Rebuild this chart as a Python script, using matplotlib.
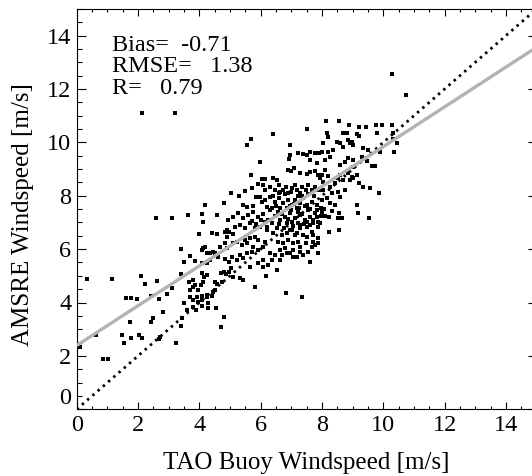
import matplotlib
matplotlib.use("Agg")
import matplotlib.pyplot as plt
from matplotlib.ticker import MultipleLocator

plt.rcParams['font.family'] = ['Liberation Serif', 'DejaVu Serif']

# ---------------- data ----------------
pts_lowleft = [(0.11,2.32),(0.35,4.88),(0.63,2.78),(0.87,1.87),(1.03,1.87),(1.16,4.88),(1.47,2.78),(1.54,2.49),
    (1.60,4.18),(1.74,3.26),(1.77,4.18),(1.77,2.66),(1.98,4.13),(2.02,2.77),(2.09,4.98),(2.13,2.66),(2.22,4.69),
    (2.41,3.26),(2.41,4.25),(2.50,3.43),(2.61,4.81),(2.69,4.13),(2.67,2.62),(2.72,2.70),(2.81,3.66),(2.93,4.30),
    (3.10,4.53),(3.24,2.49),(3.40,3.12),(3.42,3.41)]
pts_group_b = [(2.59,7.16),(3.12,7.16),(3.64,7.27),(4.08,7.31),(4.11,7.03),(4.18,7.65),(4.58,7.29),(4.80,7.72),
    (4.00,6.57),(4.40,6.61),(4.58,6.57),(4.85,6.65),(4.91,6.72),(3.40,6.02),(4.13,6.05),(4.10,5.97),(3.50,5.51),
    (3.69,5.74),(3.86,5.57),(4.26,5.87),(3.40,5.07),(3.67,4.78),(3.80,4.84),(3.86,4.66),(3.78,4.57),(3.69,4.47),
    (3.97,4.47),(4.04,4.66),(4.11,4.78),(4.15,4.97),(4.08,5.09),(4.26,5.03),(3.69,4.22),(3.78,4.09),(3.91,4.22),
    (3.97,4.03),(4.08,4.09),(3.51,3.97),(3.80,3.84),(4.08,3.87),(3.59,3.72),(3.89,3.72),(4.24,4.22),(4.29,3.97),
    (4.27,3.78)]
pts_group_c = [(4.54,3.78),(4.80,3.44),(4.69,3.09),(4.73,4.78),(4.58,4.69),(4.51,4.78),(4.26,4.28),(4.40,4.24),
    (4.08,4.24),(4.51,4.47),(4.43,4.40),(4.69,5.09),(4.80,5.15),(4.87,5.05),(4.98,5.15),(5.04,5.28),(5.81,4.59),
    (6.82,4.34),(7.34,4.22),(7.61,5.53),(6.63,5.59),(6.54,5.22),(6.17,4.99),(6.09,5.59),(5.92,5.47),(5.65,5.34),
    (5.43,4.84),(5.32,4.91),(5.11,4.97)]
pts_group_d = [(4.98,6.65),(5.11,6.57),(4.89,6.47),(4.18,6.09),(4.45,5.90),(4.35,5.84),(4.51,5.87),(4.62,5.72),
    (4.84,5.62),(4.98,5.53),(5.05,5.72),(5.22,5.59),(5.32,5.78),(4.08,5.47),(4.24,5.47),(4.35,5.59),(4.67,6.09),
    (4.84,6.22),(4.91,6.03),(5.11,6.22),(5.22,6.28),(5.38,6.15),(5.54,6.22),(5.49,6.34),(5.65,6.40),(5.81,6.47),
    (5.92,6.34),(5.76,6.09),(5.92,5.97),(6.08,6.09),(6.14,6.28),(5.54,5.84),(5.71,5.90),(5.43,5.66),(6.30,5.84),
    (6.47,5.78),(6.36,5.59),(6.25,5.40),(6.08,5.34),(6.63,5.97),(6.79,6.03),(6.95,5.84),(7.06,5.97),(7.17,5.72),
    (7.28,5.90),(7.39,5.78),(6.57,6.28),(6.74,6.22),(6.90,6.34),(7.06,6.22),(6.68,6.53),(6.85,6.59),(7.01,6.72),
    (7.12,6.53),(7.77,6.15),(7.88,5.84),(7.71,6.28),(7.88,6.22),(7.48,6.22),(7.23,6.28)]
pts_group_e = [(6.19,6.84),(6.36,6.97),(6.52,6.78),(6.41,6.59),(5.65,6.97),(5.81,6.78),(5.98,6.84),(5.49,6.78),
    (5.32,6.90),(5.16,6.84),(4.94,7.09),(5.11,7.21),(5.27,7.34),(5.43,7.15),(5.60,7.28),(5.76,7.40),(5.92,7.21),
    (6.08,7.31),(6.63,7.09),(6.79,7.21),(6.95,7.34),(7.12,7.15),(7.28,7.28),(7.45,7.09),(7.61,7.21),(7.77,7.34),
    (7.88,7.03),(7.50,6.84),(7.66,6.65),(7.28,6.78),(7.39,6.53),(6.85,6.96),(7.02,7.02),(7.28,6.90),(7.50,7.02),
    (7.72,6.96),(7.88,6.84),(6.96,6.71),(7.17,6.59),(7.50,6.46),(7.72,6.52),(7.88,6.40),(7.66,6.09),(7.55,5.90),
    (7.28,6.09),(7.06,5.71),(6.85,5.84),(6.68,5.77)]
pts_group_f = [(8.24,6.65),(8.56,6.72),(9.54,7.15),(9.18,7.36),(8.53,7.15),(8.64,7.15),(8.10,7.24),(8.24,7.19),
    (8.56,7.36),(8.31,7.43),(7.99,7.40),(7.97,7.24),(7.93,6.97)]
pts_group_g = [(2.12,11.11),(3.22,11.11),(10.28,12.56),(10.73,11.78),(10.32,10.33),
    (8.13,10.81),(8.56,10.81),(8.89,10.65),(9.20,10.58),(9.43,10.58),(9.76,10.66),(9.94,10.66),(10.29,10.66),
    (8.17,10.34),(8.18,10.21),(8.67,10.34),(8.82,10.36),(9.13,10.30),(9.21,10.24),(9.80,10.36),(10.30,10.13),
    (10.43,9.96),(10.36,9.63),(9.89,9.65),(9.35,9.80),(9.51,9.71),(8.86,10.09),(8.97,10.02),(8.91,9.96),(9.02,9.90),
    (8.59,9.96),(8.69,9.84),(8.48,10.02),(8.37,9.71),(8.04,9.96),(7.99,9.65),(8.20,9.65),(8.26,9.46),(8.10,9.34),
    (9.29,9.46),(9.46,9.30),(9.02,9.34),(8.86,9.40),(8.75,9.27),(8.59,9.15),(9.62,9.11),(9.72,9.11),(9.02,9.06),
    (9.13,8.78),(8.97,8.71),(8.86,8.84),(9.21,8.46),(9.35,8.34),(9.56,8.28),(9.87,8.09),(9.13,7.65),
    (7.99,8.77),(8.10,8.96),(7.93,8.65),(8.04,8.53),(8.20,8.74),(7.93,8.21),(8.04,8.21),(8.26,8.34),(8.42,8.46),
    (8.53,8.65),(8.59,8.78),(8.69,8.59),(8.34,8.09),(8.53,8.15),(8.15,7.90),(7.99,7.84),(8.26,7.72),(8.42,7.65),
    (8.59,7.97),(8.75,8.21),(8.91,8.59),(9.02,8.65)]
pts_group_h = [(7.50,10.49),(6.39,10.30),(5.67,10.13),(5.54,9.89),(6.95,9.90),(5.98,9.27),(6.95,9.52),(6.93,9.37),
    (7.23,9.61),(7.39,9.55),(7.52,9.51),(7.61,9.65),(7.77,9.59),(7.91,9.61),(7.61,9.34),(7.83,9.21),(6.90,8.96),
    (6.98,8.93),(7.09,9.05),(7.28,8.84),(7.50,8.81),(7.61,8.88),(7.77,8.93),(7.88,8.78),(5.67,8.76),(6.05,8.61),
    (6.14,8.61),(6.39,8.65),(6.54,8.59),(5.02,8.09),(5.30,7.99),(5.49,8.19),(5.43,7.65),(5.54,7.59),
    (6.09,8.40),(6.14,8.21),(6.30,8.34),(6.47,8.21),(6.58,8.40),(6.63,8.15),(6.74,8.21),(6.83,8.34),(6.90,8.09),
    (7.01,8.28),(7.12,8.40),(7.17,8.21),(7.28,8.09),(7.34,8.34),(7.48,8.21),(7.55,8.40),(7.66,8.21),(7.77,8.34),
    (7.88,8.21),(5.98,7.97),(6.14,7.84),(6.30,7.97),(6.47,7.78),(6.61,7.90),(6.74,7.72),(6.90,7.84),(7.01,7.65),
    (7.12,7.84),(7.28,7.72),(7.39,7.90),(7.50,7.65),(7.66,7.78),(7.83,7.65),(6.19,7.59),(6.36,7.53),(6.63,7.53),
    (6.85,7.53),(7.17,7.53)]
pts_core = [(6.25,7.10),(6.45,7.25),(6.55,7.40),(6.70,7.30),(6.88,7.12),(7.00,7.45),(7.20,7.40),(7.35,7.30),
    (7.55,7.45),(7.70,7.10),(7.82,7.20),(6.30,7.45),(6.15,7.00),(6.60,6.95),(6.75,6.80),(7.05,6.85),(7.20,6.98),
    (7.40,6.95),(7.60,6.90),(7.25,7.55),(7.45,7.60),(7.60,7.50),(7.10,7.70),(6.95,7.60),(6.50,7.60),(7.85,7.45),
    (7.95,7.55),(8.05,7.50),(7.35,8.00),(7.55,8.05),(7.75,8.00),(6.80,8.05),(6.60,8.10),(6.40,8.00),(7.00,8.15),
    (7.20,8.00),(5.70,7.05),(5.85,6.95),(6.00,7.10),(6.20,6.70),(5.75,7.60),(5.85,7.95),(6.05,7.75),(5.70,8.30),
    (5.90,8.45)]

all_pts = (pts_lowleft + pts_group_b + pts_group_c + pts_group_d + pts_group_e +
           pts_group_f + pts_group_g + pts_group_h + pts_core)
buoy_windspeed = [p[0] for p in all_pts]
amsre_windspeed = [p[1] for p in all_pts]

fit_intercept = 2.39
fit_slope = 0.745
stat_labels = ["Bias=  -0.71", "RMSE=   1.38", "R=   0.79"]
xticks = [0, 2, 4, 6, 8, 10, 12, 14]
yticks = [0, 2, 4, 6, 8, 10, 12, 14]

# ---------------- figure ----------------
W, H = 532, 476
fig = plt.figure(figsize=(W / 100, H / 100), dpi=100)
x0_px, y0_px, px_x, px_y = 76.7, 409.3, 30.67, 26.7
ax = fig.add_axes([x0_px / W, (H - y0_px) / H, 15 * px_x / W, 15 * px_y / H])
ax.set_xlim(0, 15)
ax.set_ylim(0, 15)

ax.scatter(buoy_windspeed, amsre_windspeed, s=12, marker='s', c='black', linewidths=0, zorder=2)
ax.plot([0, 15], [0, 15], color='black', lw=2.0, linestyle=(0, (0.9, 1.6)), zorder=3)
ax.plot([0, 15], [fit_intercept, fit_intercept + fit_slope * 15], color='#b3b3b3', lw=2.4,
        solid_capstyle='butt', zorder=3)

for i, s in enumerate(stat_labels):
    ax.text(1.15, 13.64 - 0.81 * i, s, fontsize=17.5, va='center', ha='left', color='black')

ax.set_xticks(xticks)
ax.set_yticks(yticks)
ax.xaxis.set_minor_locator(MultipleLocator(0.5))
ax.yaxis.set_minor_locator(MultipleLocator(0.5))
ax.tick_params(which='both', direction='in', top=True, right=True, width=0.8, colors='black')
ax.tick_params(axis='x', which='major', length=5.3, labelsize=17.5, pad=4)
ax.tick_params(axis='x', which='minor', length=2.5)
ax.tick_params(axis='y', which='major', length=6.5, labelsize=17.5, pad=4)
ax.tick_params(axis='y', which='minor', length=3.4)
for sp in ax.spines.values():
    sp.set_linewidth(0.8)
ax.yaxis.get_major_ticks()[0].label1.set_va('bottom')

ax.set_xlabel("TAO Buoy Windspeed [m/s]", fontsize=18)
ax.set_ylabel("AMSRE Windspeed [m/s]", fontsize=18)
ax.xaxis.label.set_va('center')
ax.yaxis.label.set_va('center')
ax.xaxis.set_label_coords((306.5 - x0_px) / (15 * px_x), (y0_px - 463) / (15 * px_y))
ax.yaxis.set_label_coords((23 - x0_px) / (15 * px_x), (y0_px - 215) / (15 * px_y))

fig.savefig("out.png", dpi=100)
